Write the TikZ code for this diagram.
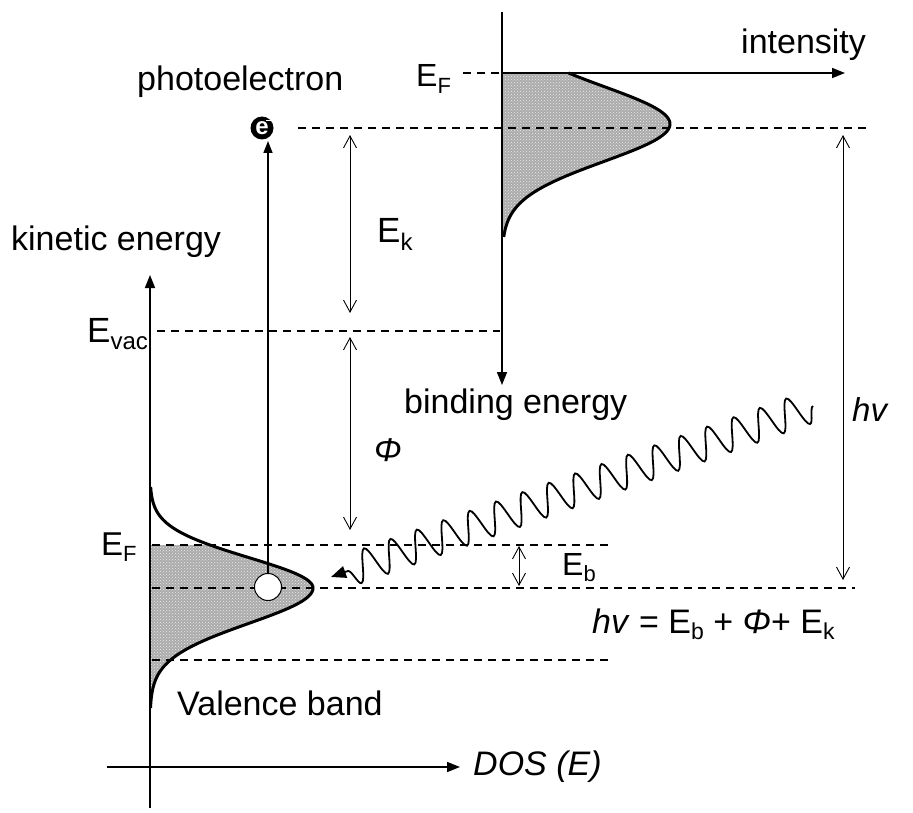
\documentclass[tikz,border=0pt]{standalone}
\usepackage{fontspec}
\setmainfont{Liberation Sans}
\usetikzlibrary{arrows.meta,decorations.pathmorphing,patterns}
\newcommand\lsub[2]{\raisebox{-0.38ex}{\fontsize{#1}{#1}\selectfont #2}}
\begin{document}
\begin{tikzpicture}[x=1pt,y=-1pt,
  lbl/.style={font=\fontsize{34}{38}\selectfont, inner sep=1pt, anchor=west},
  axis/.style={line width=1.6pt,-{Triangle[length=13pt,width=10pt]}},
  dim/.style={line width=0.9pt,{Straight Barb[length=12pt,width=13pt]}-{Straight Barb[length=12pt,width=13pt]}},
  lev/.style={line width=1.3pt,dash pattern=on 8pt off 6pt},
  band/.style={line width=3pt},
  dosfill/.style={fill=black!33},
  dots/.style={pattern=crosshatch dots, pattern color=white!85!gray},
]
\useasboundingbox (0,0) rectangle (913,813);

% coordinates
\coordinate (kb) at (150,808);
\coordinate (kt) at (150,275);
\coordinate (dl) at (107,767);
\coordinate (dr) at (460,767);
\coordinate (bt) at (502,12);
\coordinate (bb) at (502,385);
\coordinate (io) at (502,73);
\coordinate (ir) at (845,73);

% ---- fills
\fill[dosfill] (150,545) -- plot[domain=545:588,samples=40] ({150+163*exp(-(\x-588)*(\x-588)/1849)},\x)
  -- plot[domain=588:708,samples=60] ({150+163*exp(-(\x-588)*(\x-588)/2500)},\x) -- (150,708) -- cycle;
\fill[dots] (150,545) -- plot[domain=545:588,samples=40] ({150+163*exp(-(\x-588)*(\x-588)/1849)},\x)
  -- plot[domain=588:708,samples=60] ({150+163*exp(-(\x-588)*(\x-588)/2500)},\x) -- (150,708) -- cycle;
\fill[dosfill] (502,73) -- plot[domain=73:237,samples=80] ({502+168*exp(-(\x-124)*(\x-124)/2809)},\x) -- (502,237) -- cycle;
\fill[dots] (502,73) -- plot[domain=73:237,samples=80] ({502+168*exp(-(\x-124)*(\x-124)/2809)},\x) -- (502,237) -- cycle;

% ---- dashed levels
\coordinate (t1) at (463,73);
\coordinate (l1a) at (298,128); \coordinate (l1b) at (868,128);
\coordinate (va) at (157,331); \coordinate (vb) at (500,331);
\coordinate (fa) at (152,545); \coordinate (fb) at (612,545);
\coordinate (ca) at (152,588); \coordinate (cb) at (855,588);
\coordinate (ba) at (152,660); \coordinate (bb2) at (612,660);
\draw[lev] (t1) -- (io);
\draw[lev] (l1a) -- (l1b);
\draw[lev] (va) -- (vb);
\draw[lev] (fa) -- (fb);
\draw[lev] (ca) -- (cb);
\draw[lev] (ba) -- (bb2);

% ---- curves
\draw[band] plot[domain=487:588,samples=60] ({150+163*exp(-(\x-588)*(\x-588)/1849)},\x)
  -- plot[domain=588:708,samples=60] ({150+163*exp(-(\x-588)*(\x-588)/2500)},\x);
\draw[band] plot[domain=73:237,samples=80] ({502+168*exp(-(\x-124)*(\x-124)/2809)},\x);

% ---- axes
\draw[axis] (kb) -- (kt);
\draw[axis] (dl) -- (dr);
\draw[axis] (bt) -- (bb);
\draw[axis] (io) -- (ir);

% ---- dimension arrows
\coordinate (ek1) at (350,135); \coordinate (ek2) at (350,313);
\coordinate (ph1) at (350,337); \coordinate (ph2) at (350,530);
\coordinate (eb1) at (519,546); \coordinate (eb2) at (519,586);
\coordinate (hv1) at (843,135); \coordinate (hv2) at (843,580);
\draw[dim] (ek1) -- (ek2);
\draw[dim] (ph1) -- (ph2);
\draw[dim] (eb1) -- (eb2);
\draw[dim] (hv1) -- (hv2);

% ---- photon
\coordinate (w1) at (813,406);
\coordinate (w2) at (331,577);
\draw[line width=1.8pt,-{Triangle[length=15pt,width=12pt]},decorate,
  decoration={snake,amplitude=16pt,segment length=28pt,post length=14pt}] (w1) -- (w2);

% ---- electron and hole
\node[circle,draw=black,line width=1pt,fill=white,minimum size=27pt,inner sep=0pt] (hole) at (268,587) {};
\node[circle,fill=black,minimum size=23pt,inner sep=0pt,text=white,font=\bfseries\fontsize{24}{24}\selectfont] (el) at (262,128) {e};
\draw[white,line width=1.8pt] (266,120.5) -- (272,120.5);
\coordinate (pt) at (268,141);
\draw[line width=1.6pt,-{Triangle[length=12pt,width=9pt]}] (hole.north) -- (pt);

% ---- labels
\node[lbl] (int) at (740,45) {intensity};
\node[lbl] (pe) at (136,82) {photoelectron};
\node[lbl] (ke) at (10,242) {kinetic energy};
\node[lbl] (be) at (403,405) {binding energy};
\node[lbl] (vbd) at (176,703) {Valence band};
\node[lbl,font=\itshape\fontsize{34}{38}\selectfont] (dos) at (472,767) {DOS (E)};
\node[lbl,anchor=base west] (eft) at (415,87) {\fontsize{32}{32}\selectfont E\lsub{22}{F}};
\node[lbl,anchor=base west] (efl) at (100,555) {\fontsize{33}{33}\selectfont E\lsub{22}{F}};
\node[lbl,anchor=base west] (evac) at (86,342) {\fontsize{35}{35}\selectfont E\lsub{24}{vac}};
\node[lbl,anchor=base west] (ek) at (376,243) {\fontsize{35}{35}\selectfont E\lsub{24}{k}};
\node[lbl,anchor=base west] (eb) at (561,575) {\fontsize{32}{32}\selectfont E\lsub{22}{b}};
\node[lbl,anchor=base west] (phi) at (373,461) {\fontsize{33}{33}\selectfont\itshape Φ};
\node[lbl,anchor=base west] (hvl) at (851,421) {\fontsize{33}{33}\selectfont\itshape hv};
\node[lbl,anchor=base west] (form) at (591,633) {\fontsize{34}{34}\selectfont\textit{hv} = E\lsub{23}{b} + \textit{Φ}+ E\lsub{23}{k}};
\end{tikzpicture}
\end{document}
